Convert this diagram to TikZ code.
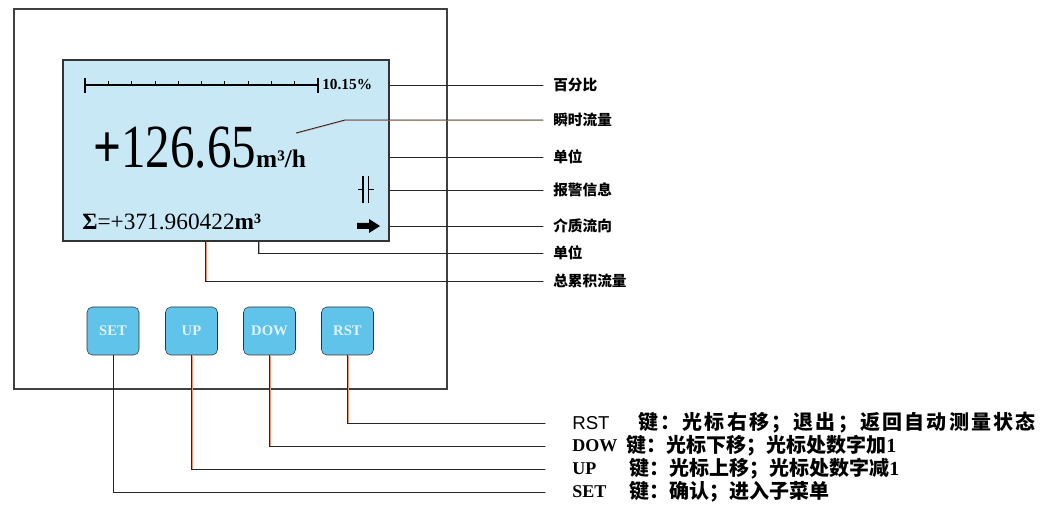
\documentclass[tikz,border=0pt]{standalone}
\usepackage{fontspec}
\usepackage{graphicx}
\newfontfamily\cjk{Noto Sans CJK SC}
\newfontfamily\cjkwide[LetterSpace=11]{Noto Sans CJK SC}
\newfontfamily\lcdfont{Liberation Serif}
\newfontfamily\rstfont{Liberation Sans}
\definecolor{lcdblue}{RGB}{200,232,246}
\definecolor{keyblue}{RGB}{96,196,234}
\definecolor{wireshade}{RGB}{240,150,120}

\begin{document}
\begin{tikzpicture}[
    x=0.75pt, y=-0.75pt,
    panel/.style={draw=black!75, line width=0.8pt},
    lcd/.style={draw=black!80, fill=lcdblue, line width=0.8pt, minimum width=244.5pt, minimum height=135.75pt, inner sep=0},
    key/.style={draw=black!80, fill=keyblue, rounded corners=4pt, minimum width=39pt, minimum height=36pt, inner sep=0, text=white!80!keyblue, font=\lcdfont\bfseries\fontsize{11}{12}\selectfont},
    lbl/.style={anchor=west, inner sep=0, font=\cjk\bfseries\fontsize{11}{13}\selectfont},
    keyname/.style={anchor=west, inner sep=0, font=\lcdfont\bfseries\fontsize{13.5}{14}\selectfont},
    keydesc/.style={anchor=west, inner sep=0, font=\cjk\bfseries\fontsize{15}{16}\selectfont},
    lead/.style={draw=black!85, line width=0.65pt, shorten >=7.5pt, preaction={draw=wireshade, line width=0.4pt, transform canvas={shift={(0.45pt,-0.45pt)}}}},
    keylead/.style={lead, shorten >=20pt}
]
\useasboundingbox (0,0) rectangle (1042,509);
\draw[panel] (14,9) rectangle (447,389);
\node[lcd] (lcd) at (226,150.5) {};

\draw[line width=0.9pt] (85,85) -- (318,85);
\draw[line width=0.9pt] (85,78) -- (85,93) (318,78) -- (318,93);
\foreach \t in {1,...,9}
    \draw[line width=0.6pt] ({85+\t*23.3},85) -- ++(0,-4);
\node[anchor=west, inner sep=0, font=\lcdfont\bfseries\fontsize{11.5}{12}\selectfont] (pctval) at (322,85) {10.15\%};
\node[anchor=base west, inner sep=0] (rate) at (93,168) {\scalebox{0.8}[1]{\lcdfont\fontsize{46}{47}\selectfont\textbf{+}126.65}{\lcdfont\bfseries\fontsize{19}{20}\selectfont m³/h}};
\node[anchor=base west, inner sep=0, font=\lcdfont\fontsize{17.5}{18}\selectfont] (total) at (82,230) {\textbf{Σ}=+371.960422\textbf{m³}};
\draw[line width=0.9pt] (363,176) -- (363,203) (368.5,176) -- (368.5,203)
    (358,189.5) -- (363,189.5) (368.5,189.5) -- (374,189.5);
\fill (357,223) -- (369,223) -- (369,219) -- (380,226) -- (369,233) -- (369,229) -- (357,229) -- cycle;
\coordinate (ratetip) at (296,133);

\node[key] (kset) at (113,331) {SET};
\node[key] (kup) at (191.5,331) {UP};
\node[key] (kdow) at (269.5,331) {DOW};
\node[key] (krst) at (347.5,331) {RST};

\node[lbl] (pct) at (553,85) {百分比};
\node[lbl] (flow) at (553,120) {瞬时流量};
\node[lbl] (unit) at (553,157) {单位};
\node[lbl] (alarm) at (553,190) {报警信息};
\node[lbl] (dir) at (553,226) {介质流向};
\node[lbl] (unitb) at (553,253) {单位};
\node[lbl] (cum) at (553,281) {总累积流量};

\node[keyname, font=\rstfont\fontsize{14}{15}\selectfont] (nrst) at (572,423) {RST};
\node[keydesc] (drst) at (638,423) {\cjkwide 键：光标右移；退出；返回自动测量状态};
\node[keyname] (ndow) at (572,446) {DOW};
\node[keydesc] (ddow) at (626,446) {键：光标下移；光标处数字加{\lcdfont 1}};
\node[keyname] (nup) at (572,469) {UP};
\node[keydesc] (dup) at (629,469) {键：光标上移；光标处数字减{\lcdfont 1}};
\node[keyname] (nset) at (572,492) {SET};
\node[keydesc] (dset) at (629,492) {键：确认；进入子菜单};

\draw[lead] (lcd.east |- pct) -- (pct.west);
\draw[lead] (ratetip) -- (345,120) -- (flow.west);
\draw[lead] (lcd.east |- unit) -- (unit.west);
\draw[lead] (lcd.east |- alarm) -- (alarm.west);
\draw[lead] (lcd.east |- dir) -- (dir.west);
\draw[lead] ([xshift=147pt]lcd.south west) |- (unitb.west);
\draw[lead] ([xshift=107.25pt]lcd.south west) |- (cum.west);

\draw[keylead] (krst.south) |- (nrst.west);
\draw[keylead] (kdow.south) |- (ndow.west);
\draw[keylead] (kup.south) |- (nup.west);
\draw[keylead] (kset.south) |- (nset.west);
\end{tikzpicture}
\end{document}
